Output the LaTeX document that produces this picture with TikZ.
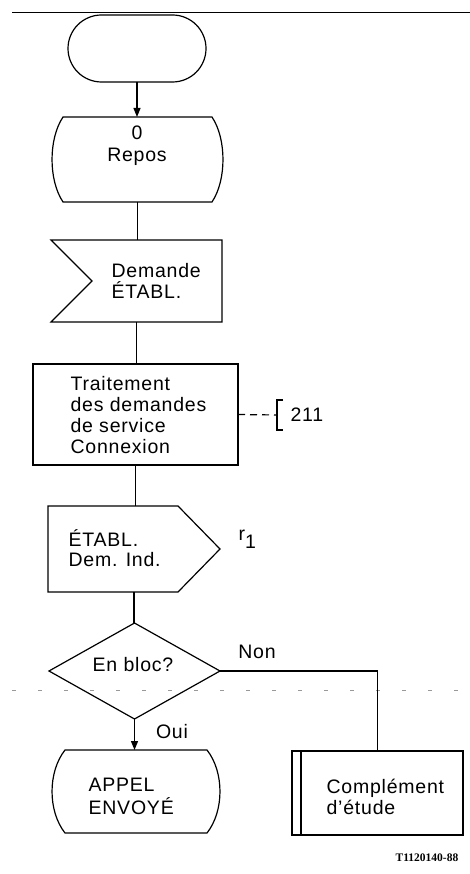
\documentclass[tikz,border=0pt]{standalone}
\usepackage{fontspec}
\setmainfont[LetterSpace=4]{Liberation Sans}
\newfontfamily\refserif{Liberation Serif}
\usetikzlibrary{shapes.misc,arrows.meta,calc}
\newcommand\drawstate[2]{%
  \draw ($(#1.north west)+(#2,0)$) -- ($(#1.north east)+(-#2,0)$)
    .. controls ($(#1.north east)+(0.33*#2,22)$) and ($(#1.south east)+(0.33*#2,-22)$) .. ($(#1.south east)+(-#2,0)$)
    -- ($(#1.south west)+(#2,0)$)
    .. controls ($(#1.south west)+(-0.33*#2,-22)$) and ($(#1.north west)+(-0.33*#2,22)$) .. cycle;}
\begin{document}
\begin{tikzpicture}[x=1pt,y=-1pt,line width=1.2pt,
  every node/.style={font=\fontsize{19.5}{21.3}\selectfont},
  sz/.style 2 args={minimum width=#1,minimum height=#2,inner sep=0pt,outer sep=0pt},
  txt/.style={inner sep=0pt,align=left},
  arr/.style={-{Triangle[length=9pt,width=7pt]}},
  faint/.style={line width=0.7pt,gray!80,dash pattern=on 4pt off 22pt}]
\useasboundingbox (0,0) rectangle (470,874);
% top rule
\coordinate (tl) at (12,13);
\coordinate (tr) at (470,13);
\draw[line width=1pt] (tl) -- (tr);
% start terminal
\node[rounded rectangle,draw,sz={138}{67}] (start) at (137,48.5) {};
% state 0 Repos
\node[sz={171}{85}] (s0) at (137.5,159.5) {};
\drawstate{s0}{11}
\node (s0num) at (137,133) {0};
\node (s0txt) at (137,157) {Repos};
% input signal
\node[sz={171}{82}] (dem) at (136.5,281) {};
\draw (dem.north west) -- (dem.north east) -- (dem.south east) -- (dem.south west) -- ($(dem.west)+(41,0)$) -- cycle;
\node[txt,anchor=west] (demtxt) at (111,281) {Demande\\ÉTABL.};
% task
\node[sz={205}{101},draw] (task) at (135.5,414.5) {};
\node[txt,anchor=west] (tasktxt) at (70,415) {Traitement\\des demandes\\de service\\Connexion};
% reference bracket
\coordinate (br) at (277,415);
\draw[dash pattern=on 7pt off 5pt] (task.east) -- (br);
\draw ($(br)+(6,-15)$) -- ($(br)+(0,-15)$) -- ($(br)+(0,15)$) -- ($(br)+(6,15)$);
\node[txt,anchor=west] (ref211) at (290,415) {211};
% output signal
\node[sz={172}{86}] (out) at (134,549) {};
\draw (out.north west) -- ($(out.north east)+(-42,0)$) -- (out.east) -- ($(out.south east)+(-42,0)$) -- (out.south west) -- cycle;
\node[txt,anchor=west,font=\fontsize{19.5}{20}\selectfont] (outtxt) at (68,548) {ÉTABL.\\Dem. Ind.};
\node[txt,anchor=base west] (r1) at (238,540) {r\raisebox{-8pt}{1}};
% decision
\node[sz={171}{96}] (dec) at (134.5,671) {};
\draw (dec.north) -- (dec.east) -- (dec.south) -- (dec.west) -- cycle;
\node[txt] (dectxt) at (133,665) {En bloc?};
\node[txt] (non) at (257,652) {Non};
\node[txt] (oui) at (172,732) {Oui};
% faint dashed rule
\coordinate (fl) at (12,690);
\coordinate (fr) at (460,690);
\draw[faint] (fl) -- (fr);
% final state
\node[sz={168}{83}] (appel) at (136,791.5) {};
\drawstate{appel}{13}
\node[txt,anchor=west,font=\fontsize{19.5}{23}\selectfont] (appeltxt) at (88,796) {APPEL\\ENVOYÉ};
% further study
\node[sz={171}{84},draw] (comp) at (377.5,793) {};
\draw ($(comp.north west)+(9,0)$) -- ($(comp.south west)+(9,0)$);
\node[txt,anchor=west] (comptxt) at (326,797) {Complément\\d'étude};
% connectors
\draw[arr] (start.south) -- (start.south |- s0.north);
\draw (s0.south) -- (s0.south |- dem.north);
\draw (dem.south) -- (dem.south |- task.north);
\draw (task.south) -- (task.south |- out.north);
\draw (out.south) -- (out.south |- dec.north);
\draw[arr] (dec.south) -- (dec.south |- appel.north);
\draw (dec.east) -| (comp.north);
% figure code
\node[font=\refserif\bfseries\fontsize{11.5}{12}\selectfont] (code) at (427,858) {T1120140-88};
\end{tikzpicture}
\end{document}
